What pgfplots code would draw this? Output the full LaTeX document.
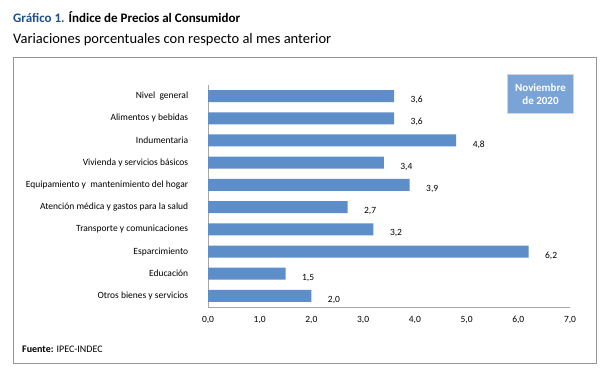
\documentclass[border=0pt]{standalone}
\usepackage{pgfplots}
\pgfplotsset{compat=1.18}
\usepackage{fontspec}
\setmainfont{Carlito}
\definecolor{barblue}{RGB}{93,142,201}
\definecolor{titleblue}{RGB}{31,78,140}
\definecolor{boxblue}{RGB}{122,163,214}
\definecolor{frame}{RGB}{150,150,150}
\begin{document}
\begin{tikzpicture}[x=1pt,y=1pt]
\path[fill=white] (0,0) rectangle (615,385);
\node[anchor=base west,inner sep=0pt,font=\fontsize{13}{15}\selectfont\bfseries] at (13,362) {\textcolor{titleblue}{Gráfico 1.} Índice de Precios al Consumidor};
\node[anchor=base west,inner sep=0pt,font=\fontsize{14.5}{17}\selectfont] at (13,341) {Variaciones porcentuales con respecto al mes anterior};
\draw[frame,line width=0.8pt] (13.5,22) rectangle (596,328);
\begin{axis}[
  at={(208pt,78pt)}, anchor=south west,
  scale only axis, width=362pt, height=222pt,
  xbar, bar width=12pt,
  xmin=0, xmax=7, ymin=-0.5, ymax=9.5,
  y dir=reverse,
  xtick={0,1,...,7},
  ytick={0,...,9},
  yticklabels={Nivel\ \ general, Alimentos y bebidas, Indumentaria, Vivienda y servicios básicos, Equipamiento y\ \ mantenimiento del hogar, Atención médica y gastos para la salud, Transporte y comunicaciones, Esparcimiento, Educación, Otros bienes y servicios},
  axis x line*=bottom, axis y line*=left,
  axis line style={-, draw=gray!70, line width=0.8pt},
  major tick style={draw=none},
  tick label style={font=\fontsize{9.5}{11}\selectfont},
  xticklabel style={yshift=-6pt},
  yticklabel style={xshift=-12pt},
  /pgf/number format/assume math mode=true,
  /pgf/number format/.cd, use comma, fixed, fixed zerofill, precision=1,
  /pgfplots/.cd,
  nodes near coords,
  point meta=x,
  every node near coord/.append style={font=\fontsize{9.5}{11}\selectfont, anchor=west, xshift=13pt, yshift=-4pt, text=black},
]
\addplot[fill=barblue, draw=none] coordinates {
(3.6,0) (3.6,1) (4.8,2) (3.4,3) (3.9,4) (2.7,5) (3.2,6) (6.2,7) (1.5,8) (2.0,9)
};
\end{axis}
\node[draw=blue!15!gray!30, line width=1.5pt, fill=boxblue, minimum width=66pt, minimum height=39pt, inner sep=1pt, text=white, align=center, font=\fontsize{11}{13.5}\selectfont\bfseries] at (540.5,291) {Noviembre\\de 2020};
\node[anchor=base west,inner sep=0pt,font=\fontsize{10}{12}\selectfont] at (22,32) {\textbf{Fuente:} IPEC-INDEC};
\end{tikzpicture}
\end{document}
